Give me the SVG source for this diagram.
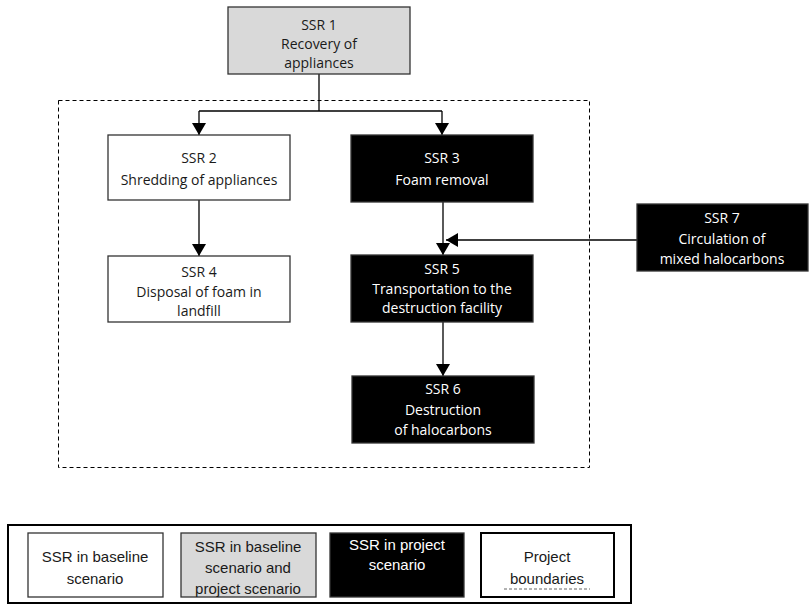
<svg xmlns="http://www.w3.org/2000/svg" width="809" height="611" viewBox="0 0 809 611">
<style>
text{font-family:"Open Sans","Liberation Sans",sans-serif;font-size:14px;text-anchor:middle;fill:#1a1a1a}
.w{fill:#fff}
.box{stroke:#333;stroke-width:1.3}
.wb{fill:#fff}
.gb{fill:#d9d9d9}
.bb{fill:#000}
.conn{stroke:#000;stroke-width:1.3;fill:none}
.lg text{font-family:"Liberation Sans",Arial,sans-serif;font-size:15px}
</style>
<defs>
<marker id="ah" viewBox="0 0 12 14" refX="12" refY="7" markerWidth="12" markerHeight="14" markerUnits="userSpaceOnUse" orient="auto">
<path d="M0,0 L12,7 L0,14 Z" fill="#000"/>
</marker>
</defs>
<rect x="58.5" y="100.5" width="531" height="367" fill="none" stroke="#000" stroke-dasharray="4,3"/>
<g id="connectors">
<path class="conn" d="M319,74 V111"/>
<path class="conn" d="M199,111 H442"/>
<path class="conn" d="M199,111 V135" marker-end="url(#ah)"/>
<path class="conn" d="M442,111 V135" marker-end="url(#ah)"/>
<path class="conn" d="M199,200 V256" marker-end="url(#ah)"/>
<path class="conn" d="M443,202 V255" marker-end="url(#ah)"/>
<path class="conn" d="M637,240 H446" marker-end="url(#ah)"/>
<path class="conn" d="M443,322 V376" marker-end="url(#ah)"/>
</g>
<g id="ssr1">
<rect class="box gb" x="228" y="7" width="182" height="67"/>
<text x="319" y="30">SSR 1</text>
<text x="319" y="49">Recovery of</text>
<text x="319" y="68">appliances</text>
</g>
<g id="ssr2">
<rect class="box wb" x="108" y="135" width="182" height="65"/>
<text x="199" y="163">SSR 2</text>
<text x="199" y="185">Shredding of appliances</text>
</g>
<g id="ssr3">
<rect class="box bb" x="351" y="135" width="182" height="67"/>
<text class="w" x="442" y="163">SSR 3</text>
<text class="w" x="442" y="185">Foam removal</text>
</g>
<g id="ssr7">
<rect class="box bb" x="637" y="204" width="171" height="67"/>
<text class="w" x="722" y="223">SSR 7</text>
<text class="w" x="722" y="244">Circulation of</text>
<text class="w" x="722" y="264">mixed halocarbons</text>
</g>
<g id="ssr4">
<rect class="box wb" x="108" y="256" width="182" height="66"/>
<text x="199" y="277">SSR 4</text>
<text x="199" y="297">Disposal of foam in</text>
<text x="199" y="316">landfill</text>
</g>
<g id="ssr5">
<rect class="box bb" x="351" y="255" width="182" height="67"/>
<text class="w" x="442" y="274">SSR 5</text>
<text class="w" x="442" y="294">Transportation to the</text>
<text class="w" x="442" y="313">destruction facility</text>
</g>
<g id="ssr6">
<rect class="box bb" x="352" y="376" width="182" height="67"/>
<text class="w" x="443" y="394">SSR 6</text>
<text class="w" x="443" y="415">Destruction</text>
<text class="w" x="443" y="435">of halocarbons</text>
</g>
<g id="legend" class="lg">
<rect x="8" y="525" width="623" height="78" fill="#fff" stroke="#000" stroke-width="2"/>
<rect class="box wb" x="28" y="533" width="135" height="64"/>
<text x="95" y="562">SSR in baseline</text>
<text x="95" y="584">scenario</text>
<rect class="box gb" x="181" y="533" width="135" height="64"/>
<text x="248" y="552">SSR in baseline</text>
<text x="248" y="573">scenario and</text>
<text x="248" y="594">project scenario</text>
<rect class="box bb" x="330" y="533" width="134" height="64"/>
<text class="w" x="397" y="550">SSR in project</text>
<text class="w" x="397" y="570">scenario</text>
<rect x="481" y="533" width="133" height="64" fill="#fff" stroke="#000" stroke-width="2"/>
<text x="547" y="562">Project</text>
<text x="547" y="584">boundaries</text>
<line x1="504" y1="589" x2="590" y2="589" stroke="#666" stroke-dasharray="3,2"/>
</g>
</svg>
